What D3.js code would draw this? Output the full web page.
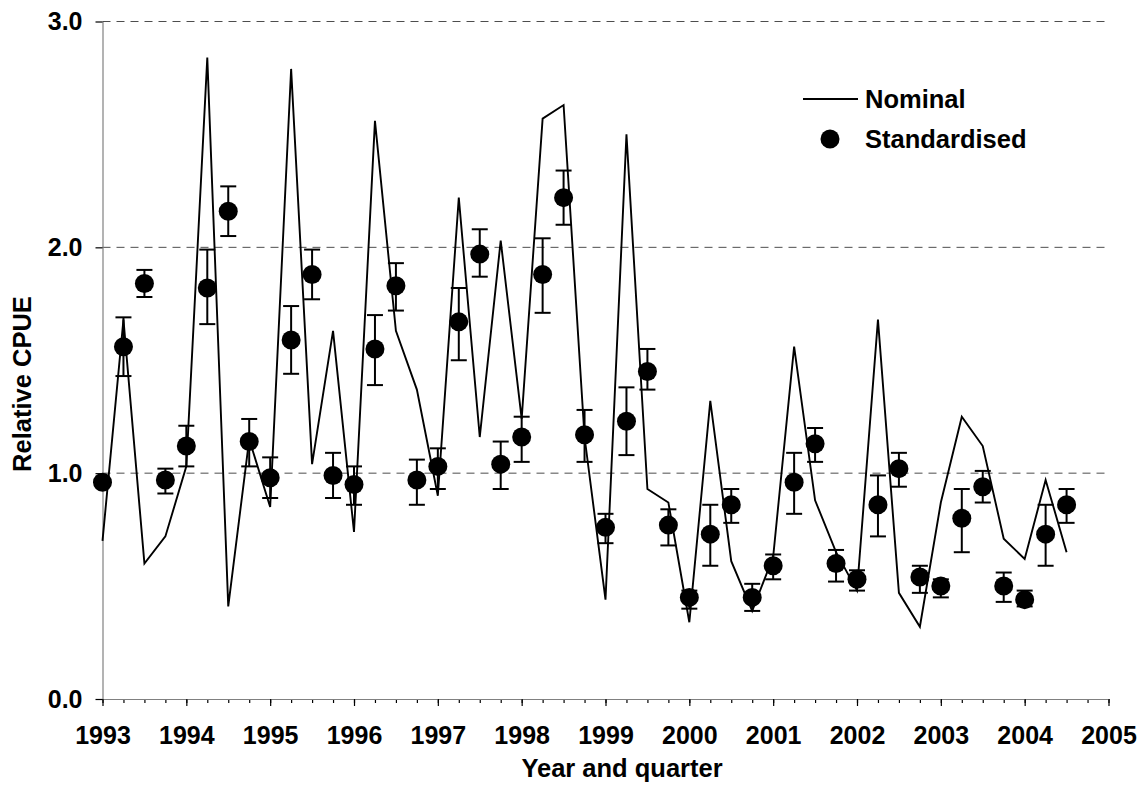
<!DOCTYPE html>
<html>
<head>
<meta charset="utf-8">
<script src="https://cdn.jsdelivr.net/npm/d3@7"></script>
<style>
  body { margin: 0; background: #fff; }
  svg text { font-family: "Liberation Sans", Arial, sans-serif; font-weight: bold; fill: #000; }
</style>
</head>
<body>
<svg id="chart" width="1144" height="796"></svg>
<script>
// Year tick labels on the x axis and value ticks on the y axis
const yearTicks = [1993, 1994, 1995, 1996, 1997, 1998, 1999, 2000, 2001, 2002, 2003, 2004, 2005];
const yTicks = [0, 1, 2, 3];
const gridValues = [1, 2, 3];

// Quarterly relative CPUE, 1993 Q1 to 2004 Q3
const nominal = [0.70, 1.68, 0.60, 0.72, 1.03, 2.84, 0.41, 1.15, 0.85, 2.79, 1.04, 1.63,
                 0.74, 2.56, 1.63, 1.37, 0.90, 2.22, 1.16, 2.03, 1.24, 2.57, 2.63, 1.16,
                 0.44, 2.50, 0.93, 0.87, 0.34, 1.32, 0.61, 0.39, 0.63, 1.56, 0.88, 0.65,
                 0.48, 1.68, 0.47, 0.32, 0.87, 1.25, 1.12, 0.71, 0.62, 0.97, 0.65];
const standardised = [0.96, 1.56, 1.84, 0.97, 1.12, 1.82, 2.16, 1.14, 0.98, 1.59, 1.88, 0.99,
                      0.95, 1.55, 1.83, 0.97, 1.03, 1.67, 1.97, 1.04, 1.16, 1.88, 2.22, 1.17,
                      0.76, 1.23, 1.45, 0.77, 0.45, 0.73, 0.86, 0.45, 0.59, 0.96, 1.13, 0.60,
                      0.53, 0.86, 1.02, 0.54, 0.50, 0.80, 0.94, 0.50, 0.44, 0.73, 0.86];
const errLow = [null, 1.43, 1.78, 0.91, 1.03, 1.66, 2.05, 1.03, 0.89, 1.44, 1.77, 0.89,
                0.86, 1.39, 1.72, 0.86, 0.93, 1.50, 1.87, 0.93, 1.05, 1.71, 2.10, 1.05,
                0.69, 1.08, 1.37, 0.68, 0.40, 0.59, 0.78, 0.39, 0.53, 0.82, 1.05, 0.52,
                0.48, 0.72, 0.94, 0.47, 0.45, 0.65, 0.87, 0.43, 0.41, 0.59, 0.78];
const errHigh = [null, 1.69, 1.90, 1.02, 1.21, 1.99, 2.27, 1.24, 1.07, 1.74, 1.99, 1.09,
                 1.03, 1.70, 1.93, 1.06, 1.11, 1.82, 2.08, 1.14, 1.25, 2.04, 2.34, 1.28,
                 0.82, 1.38, 1.55, 0.84, 0.48, 0.86, 0.93, 0.51, 0.64, 1.09, 1.20, 0.66,
                 0.57, 0.99, 1.09, 0.59, 0.53, 0.93, 1.01, 0.56, 0.48, 0.86, 0.93];

const firstYear = 1993;
const period = nominal.map((_, i) => firstYear + i / 4);
const quarterTicks = d3.range(0, (yearTicks.length - 1) * 4 + 1).map(i => firstYear + i / 4);

const TICK_FONT = 25;
const LABEL_FONT = 25.5;
const svg = d3.select("#chart");
const x = d3.scaleLinear().domain([1993, 2005]).range([102.5, 1108.5]);
const y = d3.scaleLinear().domain([0, 3]).range([699, 21.5]);

// dashed horizontal gridlines
svg.append("g")
  .selectAll("line")
  .data(gridValues)
  .join("line")
  .attr("x1", x(1993)).attr("x2", x(2005))
  .attr("y1", d => y(d)).attr("y2", d => y(d))
  .attr("stroke", "#4d4d4d")
  .attr("stroke-width", 1)
  .attr("stroke-dasharray", "8,6");

function styleAxis(g) {
  g.attr("font-family", null).attr("font-size", null);
  g.select(".domain").attr("stroke", "#808080").attr("stroke-width", 1.2);
  g.selectAll(".tick line").attr("stroke", "#000").attr("stroke-width", 1.2);
  g.selectAll(".tick text").style("font-size", TICK_FONT + "px").attr("fill", "#000");
}

// y axis
svg.append("g")
  .attr("transform", `translate(${x(1993)},0)`)
  .call(d3.axisLeft(y).tickValues(yTicks).tickFormat(d3.format(".1f"))
          .tickSize(7).tickSizeOuter(0).tickPadding(13))
  .call(styleAxis);

// x axis: quarter ticks, then year ticks with labels
svg.append("g")
  .attr("transform", `translate(0,${y(0)})`)
  .call(d3.axisBottom(x).tickValues(quarterTicks).tickFormat("")
          .tickSize(4).tickSizeOuter(0))
  .call(styleAxis);
svg.append("g")
  .attr("transform", `translate(0,${y(0)})`)
  .call(d3.axisBottom(x).tickValues(yearTicks).tickFormat(d3.format("d"))
          .tickSize(7).tickSizeOuter(0).tickPadding(20))
  .call(styleAxis);

// nominal series
const line = d3.line().x((d, i) => x(period[i])).y(d => y(d));
svg.append("path")
  .datum(nominal)
  .attr("d", line)
  .attr("fill", "none")
  .attr("stroke", "#000")
  .attr("stroke-width", 1.9)
  .attr("stroke-linejoin", "miter");

// standardised series with error bars
const cap = 8;
const bars = svg.append("g").attr("stroke", "#000").attr("stroke-width", 2);
standardised.forEach((v, i) => {
  if (errLow[i] == null) return;
  const cx = x(period[i]);
  bars.append("line").attr("x1", cx).attr("x2", cx).attr("y1", y(errLow[i])).attr("y2", y(errHigh[i]));
  bars.append("line").attr("x1", cx - cap).attr("x2", cx + cap).attr("y1", y(errLow[i])).attr("y2", y(errLow[i]));
  bars.append("line").attr("x1", cx - cap).attr("x2", cx + cap).attr("y1", y(errHigh[i])).attr("y2", y(errHigh[i]));
});
svg.append("g")
  .selectAll("circle")
  .data(standardised)
  .join("circle")
  .attr("cx", (d, i) => x(period[i]))
  .attr("cy", d => y(d))
  .attr("r", 9.5)
  .attr("fill", "#000");

// legend
const legend = svg.append("g");
legend.append("line").attr("x1", 803).attr("x2", 858).attr("y1", 99).attr("y2", 99)
  .attr("stroke", "#000").attr("stroke-width", 2);
legend.append("text").attr("x", 865).attr("y", 108).style("font-size", LABEL_FONT + "px").text("Nominal");
legend.append("circle").attr("cx", 830).attr("cy", 139).attr("r", 9.5).attr("fill", "#000");
legend.append("text").attr("x", 865).attr("y", 148).style("font-size", LABEL_FONT + "px").text("Standardised");

// axis titles
svg.append("text")
  .attr("transform", "translate(31,384) rotate(-90)")
  .attr("text-anchor", "middle")
  .style("font-size", LABEL_FONT + "px")
  .text("Relative CPUE");
svg.append("text")
  .attr("x", 622).attr("y", 777)
  .attr("text-anchor", "middle")
  .style("font-size", LABEL_FONT + "px")
  .text("Year and quarter");
</script>
</body>
</html>
